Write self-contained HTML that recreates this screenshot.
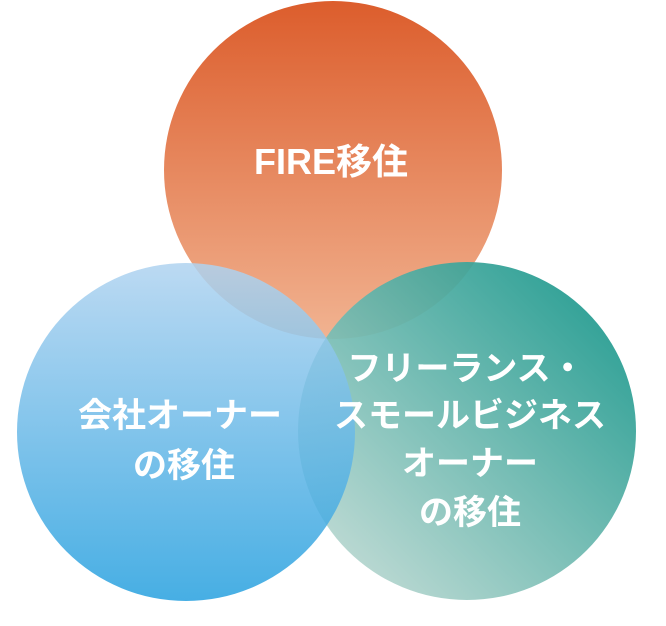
<!DOCTYPE html>
<html><head><meta charset="utf-8"><style>
html,body{margin:0;padding:0;background:#fff}
svg text{font-family:"Liberation Sans","Noto Sans CJK JP",sans-serif;font-weight:bold;fill:#fff;text-anchor:middle}
</style></head><body>
<svg width="666" height="621" viewBox="0 0 666 621" xmlns="http://www.w3.org/2000/svg">
<defs>
<linearGradient id="go" x1="0" y1="0" x2="0" y2="1"><stop offset="0" stop-color="#dc5d2c"/><stop offset="1" stop-color="#f1b391"/></linearGradient>
<linearGradient id="gb" x1="0" y1="0" x2="0" y2="1"><stop offset="0" stop-color="#b0d3f0"/><stop offset="1" stop-color="#26a0df"/></linearGradient>
<linearGradient id="gt" x1="1" y1="0" x2="0" y2="1"><stop offset="0" stop-color="#0a9185"/><stop offset="1" stop-color="#cfe0da"/></linearGradient>
</defs>
<circle cx="333" cy="170" r="169" fill="url(#go)"/>
<circle cx="467" cy="431" r="169" fill="url(#gt)" opacity="0.93"/>
<circle cx="186" cy="432" r="169" fill="url(#gb)" opacity="0.85"/>
<text x="331" y="174" font-size="36">FIRE移住</text>
<text x="180" y="427" font-size="34">会社オーナー</text>
<text x="184" y="477" font-size="34">の移住</text>
<text x="466" y="380" font-size="34">フリーランス・</text>
<text x="470" y="427" font-size="34">スモールビジネス</text>
<text x="470" y="475" font-size="34">オーナー</text>
<text x="470" y="524" font-size="34">の移住</text>
</svg>
</body></html>
